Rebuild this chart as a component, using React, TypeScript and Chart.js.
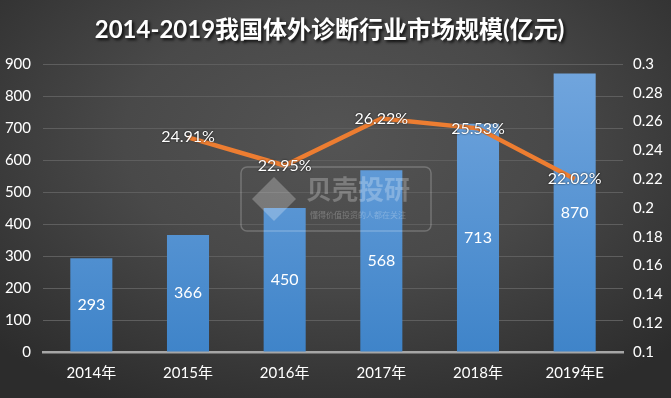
import React, { useEffect, useRef } from "react";
import { Chart, registerables } from "chart.js";

Chart.register(...registerables);

const titleText = "2014-2019我国体外诊断行业市场规模(亿元)";
const categories = ["2014年", "2015年", "2016年", "2017年", "2018年", "2019年E"];
const marketSize = [293, 366, 450, 568, 713, 870];
const growthRate = [null, 0.2491, 0.2295, 0.2622, 0.2553, 0.2202];
const growthLabels = ["", "24.91%", "22.95%", "26.22%", "25.53%", "22.02%"];
const leftTicks = [0, 100, 200, 300, 400, 500, 600, 700, 800, 900];
const rightTicks = [0.1, 0.12, 0.14, 0.16, 0.18, 0.2, 0.22, 0.24, 0.26, 0.28, 0.3];

const FONT = "Lato, 'Noto Sans CJK SC', sans-serif";

const labelPlugin = {
  id: "labelPlugin",
  beforeDraw(chart: any) {
    const { ctx, width } = chart;
    ctx.save();
    ctx.font = `bold 24px ${FONT}`;
    ctx.fillStyle = "#ffffff";
    ctx.textAlign = "center";
    ctx.textBaseline = "middle";
    ctx.shadowColor = "rgba(0,0,0,0.8)";
    ctx.shadowBlur = 3;
    ctx.shadowOffsetX = 2;
    ctx.shadowOffsetY = 2;
    ctx.fillText(titleText, width / 2 - 6, 30);
    ctx.restore();
  },
  afterDatasetsDraw(chart: any) {
    const { ctx, chartArea } = chart;
    // watermark
    ctx.save();
    const cx = (chartArea.left + chartArea.right) / 2 + 3;
    const cy = (chartArea.top + chartArea.bottom) / 2 - 9;
    const w = 190, h = 64;
    ctx.strokeStyle = "rgba(255,255,255,0.22)";
    ctx.lineWidth = 1.5;
    ctx.beginPath();
    (ctx as any).roundRect(cx - w / 2, cy - h / 2, w, h, 6);
    ctx.stroke();
    ctx.fillStyle = "rgba(255,255,255,0.25)";
    ctx.beginPath();
    const dx = cx - 62, dy = cy;
    ctx.moveTo(dx, dy - 22);
    ctx.lineTo(dx + 22, dy);
    ctx.lineTo(dx, dy + 22);
    ctx.lineTo(dx - 22, dy);
    ctx.closePath();
    ctx.fill();
    ctx.font = `bold 26px ${FONT}`;
    ctx.textAlign = "center";
    ctx.textBaseline = "middle";
    ctx.fillText("贝壳投研", cx + 22, cy - 8);
    ctx.font = `8px ${FONT}`;
    ctx.fillText("懂得价值投资的人都在关注", cx + 22, cy + 16);
    ctx.restore();

    const barMeta = chart.getDatasetMeta(0);
    ctx.save();
    ctx.font = `16px ${FONT}`;
    ctx.fillStyle = "#ffffff";
    ctx.textAlign = "center";
    ctx.textBaseline = "middle";
    barMeta.data.forEach((el: any, i: number) => {
      ctx.fillText(String(marketSize[i]), el.x, (el.y + el.base) / 2);
    });
    const lineMeta = chart.getDatasetMeta(1);
    ctx.shadowColor = "rgba(0,0,0,0.9)";
    ctx.shadowBlur = 2;
    lineMeta.data.forEach((el: any, i: number) => {
      if (growthRate[i] == null) return;
      ctx.fillText(growthLabels[i], el.x, el.y);
    });
    ctx.restore();
  },
};

export default function App() {
  const ref = useRef<HTMLCanvasElement>(null);
  useEffect(() => {
    document.body.style.margin = "0";
    const canvas = ref.current!;
    const chart = new Chart(canvas, {
      type: "bar",
      data: {
        labels: categories,
        datasets: [
          {
            type: "bar",
            data: marketSize,
            yAxisID: "y",
            backgroundColor: (c: any) => {
              const area = c.chart.chartArea;
              if (!area) return "#5b9bd5";
              const g = c.chart.ctx.createLinearGradient(0, area.top, 0, area.bottom);
              g.addColorStop(0, "#72a6de");
              g.addColorStop(1, "#3f84c9");
              return g;
            },
            categoryPercentage: 1,
            barPercentage: 0.435,
            order: 2,
          },
          {
            type: "line",
            data: growthRate as any,
            yAxisID: "y1",
            borderColor: "#ed7d31",
            borderWidth: 4.5,
            pointRadius: 0,
            tension: 0,
            spanGaps: false,
            order: 1,
          },
        ],
      },
      options: {
        animation: false,
        responsive: false,
        layout: { padding: { left: 0, top: 64, right: 0, bottom: 0 } },
        plugins: { legend: { display: false }, tooltip: { enabled: false } },
        scales: {
          x: {
            grid: { display: false, drawTicks: false },
            border: { color: "#a6a6a6", width: 2.5 },
            ticks: { color: "#ffffff", font: { family: FONT, size: 15 }, padding: 12 },
            afterFit: (s: any) => { s.height = 46; },
          },
          y: {
            position: "left",
            min: 0,
            max: 900,
            afterBuildTicks: (s: any) => { s.ticks = leftTicks.map((v) => ({ value: v })); },
            grid: { color: (c: any) => (c.tick && c.tick.value === 0 ? "rgba(0,0,0,0)" : "#5e5e5e"), drawTicks: false, lineWidth: 1 },
            border: { display: false },
            ticks: { color: "#ffffff", font: { family: FONT, size: 15 }, padding: 12 },
            afterFit: (s: any) => { s.width = 43; },
          },
          y1: {
            position: "right",
            min: 0.1,
            max: 0.3,
            afterBuildTicks: (s: any) => { s.ticks = rightTicks.map((v) => ({ value: v })); },
            grid: { display: false, drawTicks: false },
            border: { display: false },
            ticks: {
              color: "#ffffff",
              font: { family: FONT, size: 15 },
              padding: 10,
              callback: (v: any) => String(Number(Number(v).toFixed(2))),
            },
            afterFit: (s: any) => { s.width = 48; },
          },
        },
      },
      plugins: [labelPlugin],
    } as any);
    return () => chart.destroy();
  }, []);
  return (
    <div
      style={{
        position: "fixed",
        left: 0,
        top: 0,
        width: 671,
        height: 398,
        background: "radial-gradient(ellipse 70% 75% at 50% 35%, #545454 0%, #494949 45%, #2c2c2c 100%)",
      }}
    >
      <canvas ref={ref} width={671} height={398} />
    </div>
  );
}
